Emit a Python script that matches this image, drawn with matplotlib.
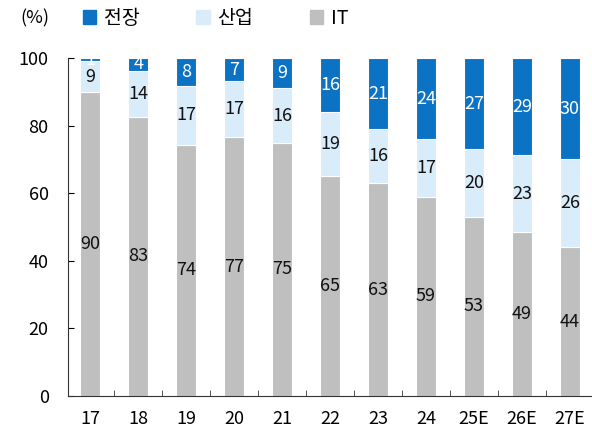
import matplotlib.pyplot as plt
import numpy as np
from matplotlib.patches import Patch

plt.rcParams['font.family'] = ['Noto Sans CJK KR', 'DejaVu Sans']

years = ['17', '18', '19', '20', '21', '22', '23', '24', '25E', '26E', '27E']
it = [90, 82.6, 74.4, 76.6, 75, 65, 63, 59, 53, 48.6, 44]
industry = [9, 13.7, 17.4, 16.6, 16, 19, 16, 17, 20, 22.6, 26]
auto = [1, 3.7, 8.2, 6.8, 9, 16, 21, 24, 27, 28.8, 30]

c_it = '#bfbfbf'
c_ind = '#d9ecfa'
c_auto = '#0b72c4'

fig = plt.figure(figsize=(5.92, 4.30), dpi=100)
ax = fig.add_axes([0.115, 0.079, 0.885, 0.786])

x = np.arange(len(years))
w = 0.42
it = np.array(it)
industry = np.array(industry)
auto = np.array(auto)

ax.bar(x, it, w, color=c_it, edgecolor='white', linewidth=0.8)
ax.bar(x, industry, w, bottom=it, color=c_ind, edgecolor='white', linewidth=0.8)
ax.bar(x, auto, w, bottom=it + industry, color=c_auto, edgecolor='white', linewidth=0.8)

fs = 13
for i in range(len(x)):
    ax.text(x[i], it[i] / 2, f'{it[i]:.0f}', ha='center', va='center', fontsize=fs, color='#111111')
    ax.text(x[i], it[i] + industry[i] / 2, f'{industry[i]:.0f}', ha='center', va='center', fontsize=fs, color='#111111')
    ax.text(x[i], it[i] + industry[i] + auto[i] / 2, f'{auto[i]:.0f}', ha='center', va='center', fontsize=fs, color='white')

ax.set_ylim(0, 100)
ax.set_xlim(-0.46, len(x) - 0.54)
ax.set_yticks([0, 20, 40, 60, 80, 100])
ax.set_xticks(x)
ax.set_xticklabels(years)
ax.set_xticks(np.arange(0.5, len(x) - 0.5), minor=True)
ax.tick_params(axis='x', which='major', length=0, pad=10, labelsize=fs)
ax.tick_params(axis='x', which='minor', direction='in', length=4, color='#333333')
ax.tick_params(axis='y', direction='in', length=4, pad=14, labelsize=fs)
for s in ['top', 'right']:
    ax.spines[s].set_visible(False)
ax.spines['left'].set_color('#333333')
ax.spines['bottom'].set_color('#333333')

fig.text(0.035, 0.958, '(%)', fontsize=fs, va='center', ha='left')
handles = [Patch(color=c_auto, label='전장'), Patch(color=c_ind, label='산업'), Patch(color=c_it, label='IT')]
fig.legend(handles=handles, loc='center left', bbox_to_anchor=(0.11, 0.958), ncol=3, frameon=False,
           fontsize=14, handlelength=0.7, handleheight=0.7, handletextpad=0.4, columnspacing=2.9)

fig.savefig('out.png', dpi=100)
